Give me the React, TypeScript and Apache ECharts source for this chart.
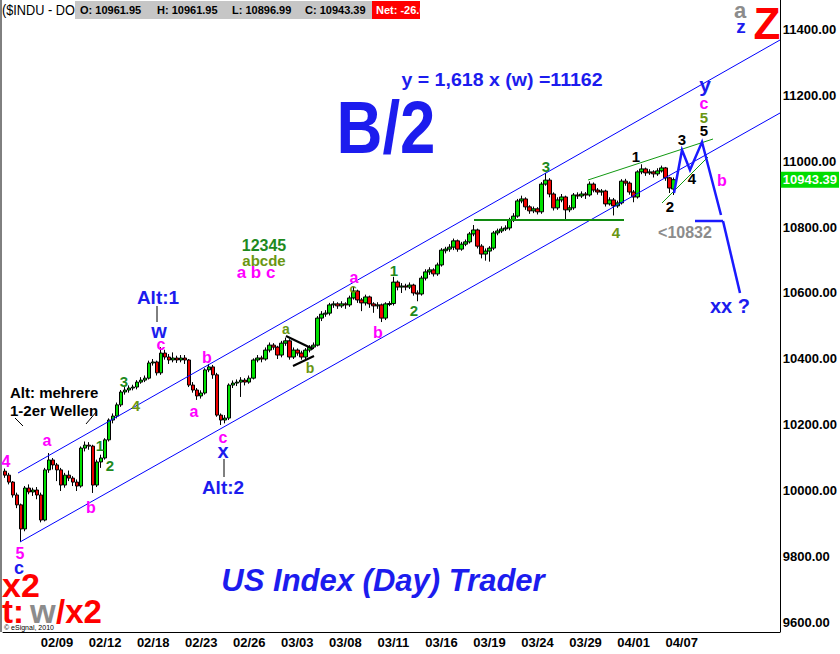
import React, { useEffect, useRef } from "react";
import * as echarts from "echarts";

// ---- price data: 2-hour bars, $INDU, Feb 3 – Apr 7 2010 ----
const opens = [
  10060, 10048, 10027, 9988, 9958, 9885, 10009, 9997, 10003, 9988,
  9912, 10064, 10094, 10079, 10064, 10018, 10048, 10039, 10027, 10015,
  10130, 10139, 10136, 10018, 10088, 10100, 10155, 10215, 10227, 10261,
  10300, 10306, 10312, 10315, 10330, 10336, 10342, 10388, 10391, 10358,
  10418, 10406, 10397, 10403, 10397, 10403, 10397, 10321, 10306, 10288,
  10297, 10367, 10376, 10352, 10230, 10215, 10221, 10321, 10327, 10330,
  10336, 10330, 10342, 10397, 10403, 10400, 10427, 10442, 10436, 10412,
  10448, 10455, 10406, 10427, 10418, 10406, 10427, 10436, 10442, 10524,
  10536, 10539, 10564, 10567, 10561, 10567, 10564, 10585, 10606, 10579,
  10570, 10588, 10567, 10561, 10564, 10524, 10565, 10568, 10633, 10618,
  10621, 10618, 10624, 10600, 10597, 10645, 10664, 10670, 10658, 10685,
  10728, 10733, 10739, 10758, 10733, 10748, 10755, 10779, 10791, 10742,
  10718, 10727, 10736, 10782, 10788, 10794, 10797, 10821, 10833, 10879,
  10885, 10861, 10849, 10855, 10846, 10930, 10942, 10900, 10858, 10882,
  10891, 10852, 10858, 10897, 10894, 10900, 10897, 10930, 10912, 10906,
  10909, 10870, 10882, 10864, 10873, 10939, 10933, 10906, 10891, 10967,
  10976, 10964, 10967, 10961, 10970, 10979, 10949, 10915,
];
const closes = [
  10048, 10027, 9988, 9958, 9885, 10009, 9997, 10003, 9988, 9912,
  10064, 10094, 10079, 10064, 10018, 10048, 10039, 10027, 10015, 10130,
  10139, 10136, 10018, 10088, 10100, 10155, 10215, 10227, 10261, 10300,
  10306, 10312, 10315, 10330, 10336, 10342, 10388, 10391, 10358, 10418,
  10406, 10397, 10403, 10397, 10403, 10397, 10321, 10306, 10288, 10297,
  10367, 10376, 10352, 10230, 10215, 10221, 10321, 10327, 10330, 10336,
  10330, 10342, 10397, 10403, 10400, 10427, 10442, 10436, 10412, 10448,
  10455, 10406, 10427, 10418, 10406, 10427, 10436, 10442, 10524, 10536,
  10539, 10564, 10567, 10561, 10567, 10564, 10585, 10606, 10579, 10570,
  10588, 10567, 10561, 10564, 10524, 10567, 10568, 10633, 10618, 10621,
  10618, 10624, 10600, 10597, 10645, 10664, 10670, 10658, 10685, 10730,
  10733, 10739, 10758, 10733, 10748, 10755, 10779, 10791, 10742, 10718,
  10727, 10736, 10782, 10788, 10794, 10797, 10821, 10833, 10879, 10885,
  10861, 10849, 10855, 10846, 10930, 10942, 10900, 10858, 10882, 10891,
  10852, 10858, 10897, 10894, 10900, 10897, 10930, 10912, 10906, 10909,
  10870, 10882, 10864, 10873, 10939, 10933, 10906, 10891, 10967, 10976,
  10964, 10967, 10961, 10970, 10979, 10949, 10918, 10943.39,
];
const lows = [
  10040, 10020, 9980, 9948, 9846, 9878, 9990, 9985, 9975, 9905,
  9908, 10055, 10065, 10030, 10000, 10010, 10030, 10015, 10000, 10010,
  10120, 10125, 9994, 10012, 10070, 10095, 10150, 10205, 10220, 10255,
  10292, 10298, 10305, 10308, 10325, 10330, 10338, 10380, 10350, 10352,
  10398, 10385, 10390, 10388, 10390, 10385, 10315, 10298, 10276, 10280,
  10292, 10360, 10340, 10225, 10200, 10205, 10215, 10312, 10318, 10285,
  10320, 10325, 10338, 10390, 10390, 10395, 10420, 10428, 10400, 10405,
  10440, 10398, 10400, 10410, 10398, 10400, 10420, 10430, 10438, 10515,
  10528, 10532, 10555, 10552, 10555, 10552, 10558, 10580, 10570, 10545,
  10562, 10555, 10540, 10552, 10512, 10518, 10560, 10562, 10608, 10600,
  10608, 10612, 10592, 10575, 10592, 10638, 10655, 10650, 10652, 10680,
  10720, 10725, 10730, 10725, 10728, 10742, 10750, 10772, 10735, 10705,
  10698, 10695, 10730, 10775, 10782, 10788, 10790, 10815, 10828, 10872,
  10852, 10840, 10842, 10838, 10840, 10925, 10890, 10850, 10852, 10875,
  10821, 10845, 10852, 10885, 10888, 10885, 10892, 10905, 10898, 10895,
  10862, 10865, 10835, 10858, 10868, 10925, 10898, 10875, 10886, 10960,
  10955, 10958, 10950, 10955, 10965, 10940, 10903, 10897,
];
const highs = [
  10068, 10055, 10030, 9995, 9962, 10015, 10020, 10010, 10012, 9995,
  10070, 10115, 10100, 10085, 10070, 10055, 10062, 10045, 10035, 10135,
  10150, 10148, 10140, 10095, 10110, 10160, 10220, 10235, 10268, 10306,
  10315, 10320, 10322, 10336, 10345, 10350, 10395, 10400, 10395, 10436,
  10428, 10415, 10420, 10410, 10412, 10412, 10400, 10330, 10312, 10305,
  10372, 10385, 10382, 10358, 10235, 10230, 10326, 10335, 10338, 10345,
  10342, 10350, 10402, 10412, 10410, 10435, 10450, 10448, 10440, 10455,
  10465, 10460, 10435, 10432, 10425, 10433, 10442, 10450, 10530, 10545,
  10548, 10570, 10575, 10572, 10575, 10572, 10592, 10618, 10610, 10585,
  10595, 10592, 10572, 10572, 10568, 10572, 10575, 10649, 10638, 10630,
  10628, 10632, 10628, 10608, 10652, 10672, 10678, 10675, 10692, 10736,
  10740, 10748, 10765, 10762, 10755, 10762, 10785, 10806, 10795, 10748,
  10735, 10742, 10788, 10795, 10802, 10805, 10828, 10842, 10885, 10895,
  10890, 10866, 10862, 10860, 10936, 10964, 10948, 10905, 10890, 10900,
  10895, 10866, 10903, 10905, 10908, 10906, 10938, 10935, 10918, 10915,
  10913, 10890, 10888, 10880, 10945, 10946, 10938, 10912, 10972, 10990,
  10980, 10975, 10972, 10978, 10986, 10982, 10952, 10950,
];

// x tick labels (bar index where each date label sits)
const dateLabels = ["02/09", "02/12", "02/18", "02/23", "02/26", "03/03", "03/08", "03/11", "03/16", "03/19", "03/24", "03/29", "04/01", "04/07"];
const dateIndex = [13, 25, 37, 49, 61, 73, 85, 97, 109, 121, 133, 145, 157, 169];
const yTicks = [9600, 9800, 10000, 10200, 10400, 10600, 10800, 11000, 11200, 11400];
const lastPrice = 10943.39;
const header = { o: "10961.95", h: "10961.95", l: "10896.99", c: "10943.39", net: "-26.60" };

const SLOTS = 194; // bar slots across the plot (right part left empty)
const Y_MIN = 9572.7;
const Y_MAX = 11487.9;

const FF = '"Liberation Sans", Arial, sans-serif';
const MAG = "#ff00ff";
const GRN = "#1e8a1e";
const OLV = "#6a9612";
const BLU = "#1c1cee";
const RED = "#ff0000";
const GRY = "#8c8c8c";

function txt(text: string, x: number, y: number, fill: string, size: number, o: any = {}) {
  const align = o.align || "center";
  return {
    type: "text",
    x,
    y,
    z: 30,
    scaleX: o.sx || 1,
    style: {
      text,
      fill,
      font: `${o.italic ? "italic " : ""}${o.normal ? "" : "bold "}${size}px ${FF}`,
      textAlign: align,
      align,
      textVerticalAlign: "middle",
      verticalAlign: "middle",
    },
  };
}
function ln(x1: number, y1: number, x2: number, y2: number, stroke: string, w = 1) {
  return { type: "line", z: 25, shape: { x1, y1, x2, y2 }, style: { stroke, lineWidth: w } };
}

export default function App() {
  const ref = useRef<HTMLDivElement>(null);
  useEffect(() => {
    if (!ref.current) return;
    const chart = echarts.init(ref.current, null, { renderer: "svg" });
    const cats: string[] = [];
    for (let i = 0; i < SLOTS; i++) cats.push(String(i));
    const labelMap: Record<number, string> = {};
    dateIndex.forEach((idx, k) => (labelMap[idx] = dateLabels[k]));
    const data = opens.map((o, i) => [o, closes[i], lows[i], highs[i]]);

    const graphic: any[] = [
      // frame left edge
      ln(1, 0, 1, 632, "#000", 1),
      // header
      txt("($INDU - DO", 2, 10, "#000", 15, { align: "left", normal: true, sx: 0.85 }),
      { type: "rect", z: 28, shape: { x: 75, y: 1, width: 300, height: 18 }, style: { fill: "#c6c6c6" } },
      { type: "rect", z: 28, shape: { x: 372, y: 1, width: 48, height: 18 }, style: { fill: RED } },
      txt("O: " + header.o, 80, 10, "#000", 11, { align: "left" }),
      txt("H: " + header.h, 157, 10, "#000", 11, { align: "left" }),
      txt("L: " + header.l, 232, 10, "#000", 11, { align: "left" }),
      txt("C: " + header.c, 305, 10, "#000", 11, { align: "left" }),
      txt("Net: " + header.net, 376, 10, "#fff", 11, { align: "left" }),
      // top right
      txt("a", 740, 10, GRY, 22),
      txt("z", 741, 26, BLU, 19),
      txt("Z", 767, 23, RED, 44),
      // big titles
      txt("B/2", 386, 128, BLU, 74, { sx: 0.86 }),
      txt("y = 1,618 x (w) =11162", 502, 80, BLU, 19, { sx: 1.03 }),
      txt("US Index (Day) Trader", 383, 580, BLU, 31, { italic: true }),
      // bottom-left
      txt("x2", 2, 585, RED, 34, { align: "left" }),
      txt("t:", 2, 611, RED, 33, { align: "left" }),
      txt("w", 30, 611, GRY, 33, { align: "left" }),
      txt("/x2", 56, 611, RED, 33, { align: "left" }),
      txt("\u00a9 eSignal, 2010", 4, 627, "#000", 7, { align: "left", normal: true }),
      // channel lines
      ln(18, 473, 780, 40, "#0000ff", 1),
      ln(20, 542, 780, 113, "#0000ff", 1),
      // early labels
      txt("4", 6, 461, MAG, 16),
      txt("a", 47, 440, MAG, 16),
      txt("b", 91, 507, MAG, 16),
      txt("5", 20, 553, MAG, 16),
      txt("c", 19, 568, BLU, 18),
      txt("1", 100, 445, GRN, 15),
      txt("2", 110, 465, GRN, 15),
      txt("3", 124, 381, GRN, 15),
      txt("4", 136, 405, OLV, 15),
      txt("Alt: mehrere", 10, 392, "#000", 15, { align: "left" }),
      txt("1-2er Wellen", 10, 410, "#000", 15, { align: "left" }),
      ln(15, 418, 23, 426, "#000", 1),
      ln(86, 424, 97, 411, "#000", 1),
      txt("Alt:1", 158, 297, BLU, 19),
      ln(157, 306, 157, 322, "#000", 1),
      txt("w", 159, 331, BLU, 20),
      txt("c", 161, 344, MAG, 16),
      txt("b", 207, 357, MAG, 16),
      txt("a", 194, 411, MAG, 16),
      txt("c", 223, 437, MAG, 16),
      txt("x", 223, 451, BLU, 20),
      ln(224, 459, 224, 477, "#000", 1),
      txt("Alt:2", 223, 487, BLU, 19),
      txt("12345", 264, 245, GRN, 16),
      txt("abcde", 264, 260, OLV, 15),
      txt("a b c", 256, 272, MAG, 17),
      txt("a", 286, 329, OLV, 14),
      txt("b", 310, 368, OLV, 14),
      ln(286, 336, 313, 349, "#000", 2),
      ln(293, 366, 314, 356, "#000", 2),
      txt("a", 354, 277, MAG, 16),
      txt("c", 353, 288, OLV, 13),
      txt("b", 378, 332, MAG, 16),
      txt("1", 394, 270, GRN, 15),
      txt("2", 414, 310, GRN, 15),
      txt("3", 546, 166, GRN, 15),
      txt("4", 616, 232, OLV, 15),
      ln(474, 220, 624, 220, "#108a10", 2),
      // top right wave count
      ln(588, 180, 713, 139, "#119911", 1),
      ln(662, 203, 708, 157, "#119911", 1),
      txt("1", 636, 156, "#000", 15),
      txt("2", 670, 206, "#000", 15),
      txt("3", 682, 139, "#000", 15),
      txt("4", 692, 178, "#000", 15),
      txt("5", 704, 130, "#000", 15),
      txt("5", 704, 117, OLV, 15),
      txt("c", 704, 103, MAG, 16),
      txt("y", 705, 84, BLU, 21),
      {
        type: "polyline",
        z: 26,
        shape: { points: [[674, 193], [682, 150], [690, 170], [702, 142], [721, 215]] },
        style: { stroke: "#1a1aff", lineWidth: 2.5, fill: null },
      },
      ln(695, 221, 723, 221, "#1a1aff", 2.5),
      ln(723, 221, 740, 293, "#1a1aff", 2.5),
      txt("b", 722, 180, MAG, 16),
      txt("<10832", 685, 232, GRY, 16),
      txt("xx ?", 730, 306, BLU, 20),
    ];

    chart.setOption({
      animation: false,
      backgroundColor: "#ffffff",
      grid: { left: 3, right: 60, top: 0, bottom: 22, containLabel: false },
      xAxis: {
        type: "category",
        data: cats,
        boundaryGap: true,
        axisLine: { show: true, lineStyle: { color: "#000", width: 1 } },
        axisTick: { show: false },
        splitLine: { show: false },
        axisLabel: {
          interval: (i: number) => labelMap[i] !== undefined,
          formatter: (v: string) => labelMap[parseInt(v, 10)] || "",
          color: "#000",
          fontWeight: "bold",
          fontSize: 13,
          fontFamily: FF,
          margin: 4,
        },
      },
      yAxis: {
        type: "value",
        position: "right",
        min: Y_MIN,
        max: Y_MAX,
        axisLine: { show: true, lineStyle: { color: "#000", width: 1 } },
        axisTick: { show: false },
        splitLine: { show: false },
        axisLabel: {
          customValues: yTicks,
          formatter: (v: number) => v.toFixed(2),
          color: "#000",
          fontWeight: "bold",
          fontSize: 13,
          fontFamily: FF,
          margin: 3,
        },
      },
      series: [
        {
          type: "candlestick",
          data,
          barWidth: 4,
          itemStyle: {
            color: "#00e000",
            color0: "#ee0000",
            borderColor: "#000",
            borderColor0: "#000",
            borderWidth: 1,
          },
          markLine: {
            silent: true,
            symbol: "none",
            data: [{ yAxis: lastPrice }],
            lineStyle: { color: "transparent", width: 0 },
            label: {
              show: true,
              position: "end",
              distance: 1,
              formatter: lastPrice.toFixed(2),
              color: "#fff",
              backgroundColor: "#00dd00",
              fontWeight: "bold",
              fontSize: 13,
              fontFamily: FF,
              padding: [2, 2, 1, 2],
            },
          },
        },
      ],
      graphic,
    });
    return () => chart.dispose();
  }, []);
  return <div ref={ref} style={{ width: 840, height: 654, position: "absolute", left: 0, top: 0 }} />;
}
